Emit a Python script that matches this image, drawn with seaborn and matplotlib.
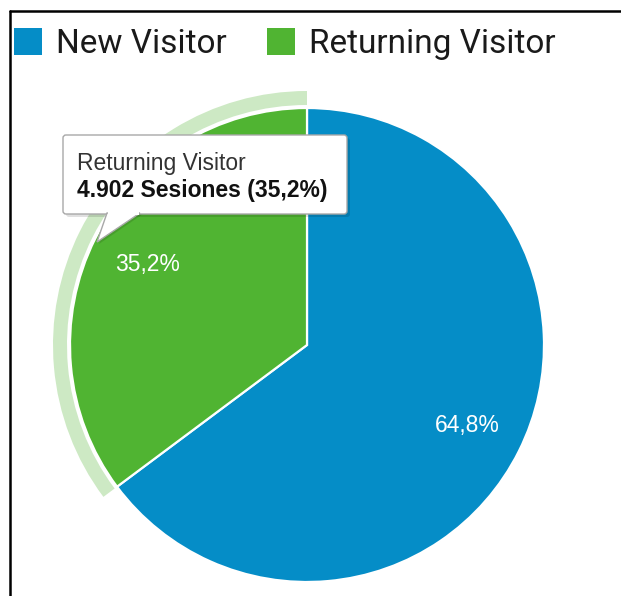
import matplotlib
matplotlib.use("Agg")
import matplotlib.pyplot as plt
from matplotlib.patches import Wedge, Patch, FancyBboxPatch, Polygon, Rectangle
from matplotlib.lines import Line2D
import seaborn as sns

# Sessions by visitor type
categories = ["New Visitor", "Returning Visitor"]
sessions = [9024, 4902]
colors = ["#058DC7", "#50B432"]
halo_color = "#CDE9C4"
tooltip_title = "Returning Visitor"
tooltip_value = "4.902 Sesiones (35,2%)"

sns.set_theme(style="white")
plt.rcParams["font.family"] = ["Liberation Sans", "DejaVu Sans"]

W, H = 621, 596
fig = plt.figure(figsize=(W / 100, H / 100), dpi=100)
ax = fig.add_axes([0, 0, 1, 1])


def py(y):
    """Convert a top-down pixel row to the upward data axis."""
    return H - y


cx, cy, r = 307, py(345), 237


def fmt_pct(p):
    return f"{p:.1f}%".replace(".", ",")


wedges, texts, autotexts = ax.pie(
    sessions,
    colors=colors,
    startangle=90,
    counterclock=False,
    center=(cx, cy),
    radius=r,
    autopct=fmt_pct,
    pctdistance=0.755,
    wedgeprops=dict(edgecolor="white", linewidth=1.6),
    textprops=dict(color="white", fontsize=16.5, family=["Liberation Sans"]),
)

# Hover halo around the returning-visitor slice
ret = wedges[1]
halo = Wedge((cx, cy), r + 17, ret.theta1, ret.theta2, width=14,
             facecolor=halo_color, edgecolor="none", zorder=0)
ax.add_patch(halo)

ax.set_xlim(0, W)
ax.set_ylim(0, H)
ax.set_aspect("auto")
ax.axis("off")

# Tooltip
bx0, by0, bx1, by1 = 63, 135, 347, 214
shadow = FancyBboxPatch((bx0 + 3, py(by1) - 3), bx1 - bx0, by1 - by0,
                        boxstyle="round,pad=0,rounding_size=3",
                        facecolor="#000000", alpha=0.12, edgecolor="none", zorder=5)
ax.add_patch(shadow)
box = FancyBboxPatch((bx0, py(by1)), bx1 - bx0, by1 - by0,
                     boxstyle="round,pad=0,rounding_size=3",
                     facecolor="white", edgecolor="#A8A8A8", linewidth=1.0, zorder=6)
ax.add_patch(box)
pointer_shadow = Polygon([(110, py(by1)), (143, py(by1)), (99, py(244))],
                         closed=True, facecolor="#000000", alpha=0.12,
                         edgecolor="none", zorder=5)
ax.add_patch(pointer_shadow)
pointer = Polygon([(107, py(by1) + 1), (140, py(by1) + 1), (97, py(242))],
                  closed=True, facecolor="white", edgecolor="#A8A8A8",
                  linewidth=1.0, zorder=6)
ax.add_patch(pointer)
ax.add_patch(Rectangle((108, py(by1) - 0.5), 31, 2.5, facecolor="white",
                       edgecolor="none", zorder=7))

ax.text(77, py(170), tooltip_title, fontsize=16.5, color="#333333",
        va="baseline", ha="left", zorder=8)
ax.text(77, py(196.5), tooltip_value, fontsize=16.5, color="#111111",
        fontweight="bold", va="baseline", ha="left", zorder=8)

# Legend
handles = [Patch(facecolor=c, edgecolor="none", label=lab)
           for c, lab in zip(colors, categories)]
fig.legend(handles=handles, loc="upper left",
           bbox_to_anchor=(14 / W, 1 - 28 / H), ncol=2, frameon=False,
           borderpad=0, borderaxespad=0, handlelength=0.85, handleheight=0.85,
           handletextpad=0.42, columnspacing=1.2,
           prop=dict(family="Roboto", size=24), labelcolor="#1a1a1a")

# Frame on the top and left edges
fig.add_artist(Line2D([9.5 / W, 9.5 / W], [0, 1 - 10.5 / H], color="black",
                      linewidth=1.8, transform=fig.transFigure))
fig.add_artist(Line2D([9.5 / W, 1], [1 - 10.5 / H, 1 - 10.5 / H], color="black",
                      linewidth=1.8, transform=fig.transFigure))

fig.savefig("out.png", dpi=100, facecolor="white")
